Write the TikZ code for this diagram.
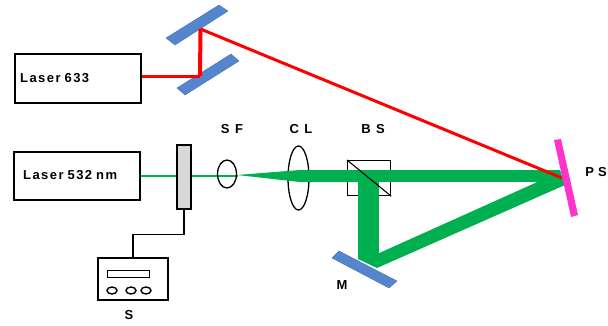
\documentclass[tikz,border=0pt]{standalone}
\usetikzlibrary{shapes.geometric}
\usepackage{fontspec}
\setmainfont{Liberation Sans}[LetterSpace=14]
\newfontfamily\lasertext{Liberation Sans}[LetterSpace=11,WordSpace=0.8]
\begin{document}
\begin{tikzpicture}[x=1pt,y=-1pt,
  lbl/.style={font=\fontsize{13}{15}\selectfont\bfseries,text=black,inner sep=0pt},
  laserlbl/.style={font=\fontsize{13}{15}\selectfont\lasertext\bfseries,text=black,inner sep=0pt},
  box/.style={draw=black,line width=1.7pt,fill=white},
  mirror/.style={fill=mirrorblue,draw=mirrorblue!85!black,line width=0.4pt},
  bline/.style={draw=black,line width=1.5pt},
  redbeam/.style={draw=red,line width=3pt},
  greenbeam/.style={fill=beamgreen,draw=none}]
\definecolor{mirrorblue}{HTML}{5585CC}
\definecolor{beamgreen}{HTML}{00B050}
\definecolor{psmag}{HTML}{FF33CC}
\definecolor{modgray}{HTML}{D9D9D9}
\useasboundingbox (0,0) rectangle (608,325);
% mirrors
\fill[mirror] (166,38) -- (219,5) -- (228,11) -- (175,45) -- cycle;
\fill[mirror] (177,88) -- (231,54) -- (239,61) -- (185,95) -- cycle;
\fill[mirror] (339,251) -- (397,281) -- (389,288) -- (332,258) -- cycle;
% collimating lens, the beam passes over it
\node[draw=black,line width=1.3pt,ellipse,minimum width=21pt,minimum height=64pt,inner sep=0pt] (cl) at (298.5,178) {};
% green beams
\fill[greenbeam] (237,175) -- (300,170) -- (560,170) -- (565,185) -- (377,268) -- (358,259) -- (358,182) -- (300,182) -- cycle;
\fill[white] (379,182) -- (537,182) -- (379,253) -- cycle;
% beam splitter frame, the beams pass over it
\node[draw=black,line width=1.2pt,minimum width=43pt,minimum height=35pt,inner sep=0pt,anchor=north west] (bs) at (347,160) {};
\fill[greenbeam] (346,170) rectangle (391,182);
\fill[greenbeam] (358,182) rectangle (379,196);
\draw[black,line width=1.1pt] (bs.north west) -- (bs.south east);
% lasers
\node[box,minimum width=126pt,minimum height=49pt,inner sep=0pt,anchor=north west] (l633) at (14,53) {};
\node[laserlbl,anchor=west] (t633) at (20,78) {Laser 633};
\node[box,minimum width=126pt,minimum height=48pt,inner sep=0pt,anchor=north west] (l532) at (13,151) {};
\node[laserlbl,anchor=west] (t532) at (23,175) {Laser 532 nm};
% red beams
\coordinate (r1) at (200,76);
\coordinate (r2) at (200.5,29);
\coordinate (r3) at (562,178);
\draw[redbeam,line join=round] (l633.east |- r1) -- (r1);
\draw[redbeam,line width=4pt] (r1) -- (r2);
\draw[redbeam,line join=round] (r2) -- (r3);
% thin green beam
\draw[beamgreen,line width=1.6pt] (l532.east |- 0,176) -- (238,176);
% modulator
\node[draw=black,fill=modgray,line width=1.5pt,minimum width=14pt,minimum height=64pt,inner sep=0pt,anchor=north west] (mod) at (176,144) {};
% supply
\node[draw=black,line width=1.5pt,minimum width=70pt,minimum height=42pt,inner sep=0pt,anchor=north west,fill=white] (sup) at (97,257) {};
\node[draw=black,line width=1.4pt,minimum width=42pt,minimum height=7pt,inner sep=0pt,anchor=north west] (disp) at (107,270) {};
\foreach \n/\cx in {a/112,b/131,c/146}
  \node[draw=black,line width=1.4pt,ellipse,minimum width=10pt,minimum height=7pt,inner sep=0pt] (k\n) at (\cx,290.5) {};
\draw[bline] (mod.south) -- ++(0,25) -| (sup.north);
% spatial filter lens
\node[draw=black,line width=1.3pt,ellipse,minimum width=19pt,minimum height=28pt,inner sep=0pt] (sf) at (227,174) {};
% PS
\fill[psmag] (554,140) -- (561,139) -- (578,215) -- (571,217) -- cycle;
% labels
\node[lbl] (lsf) at (232,129) {S F};
\node[lbl] (lcl) at (301,129) {C L};
\node[lbl] (lbs) at (373,129) {B S};
\node[laserlbl,anchor=east] (lps) at (607,172) {P S};
\node[lbl] (lm) at (342,285) {M};
\node[lbl] (ls) at (129,315) {S};
\end{tikzpicture}
\end{document}
